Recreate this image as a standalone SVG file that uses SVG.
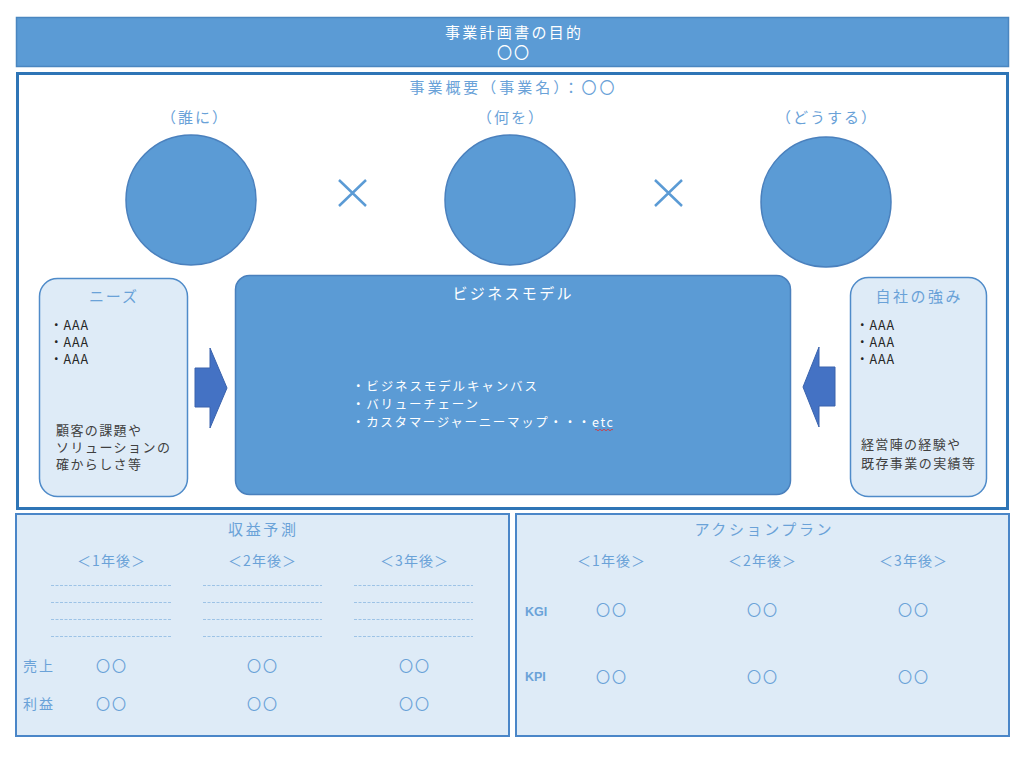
<svg xmlns="http://www.w3.org/2000/svg" width="1024" height="762" viewBox="0 0 1024 762">
<style>
text{font-family:"Noto Sans CJK JP","Noto Sans",sans-serif;}
.w{fill:#ffffff;font-size:15px;}
.lb{fill:#6aa2d8;font-size:15px;}
.lbs{fill:#6aa2d8;font-size:14px;}
.dk{fill:#262626;font-size:12.5px;}
.gr{fill:#404040;font-size:13px;}
.wl{fill:#ffffff;font-size:12.5px;}
.c{text-anchor:middle;}
.circ{fill:#5b9bd5;stroke:#4a80bd;stroke-width:1.5;}
.pale{fill:#deebf7;stroke:#4f8bc9;stroke-width:1.5;}
.panel{fill:#deebf7;stroke:#4a86c8;stroke-width:2;}
.dash{stroke:#9dc3e6;stroke-width:1;stroke-dasharray:3 1.5;fill:none;}
.x{stroke:#5b9bd5;stroke-width:2.5;fill:none;}
.arr{fill:#4472c4;stroke:#3a63ad;stroke-width:1;}
.k{fill:#6aa2d8;font-size:12.5px;font-weight:bold;font-family:"Liberation Sans",Arial,sans-serif;}
</style>

<g id="purpose">
<rect x="16.5" y="17.5" width="992" height="49" fill="#5b9bd5" stroke="#4a86c0" stroke-width="1.5"/>
<text class="w c" x="513" y="38" textLength="136">事業計画書の目的</text>
<text class="w c" x="513" y="58" textLength="32">〇〇</text>
</g>

<g id="overview">
<rect x="17.5" y="73.5" width="990" height="435" fill="#ffffff" stroke="#2e75b6" stroke-width="3"/>
<text class="lb c" x="512" y="93" font-size="16" textLength="205">事業概要（事業名）：〇〇</text>
</g>

<g id="who">
<text class="lb c" x="195" y="123" letter-spacing="2">（誰に）</text>
<circle class="circ" cx="191" cy="200" r="65"/>
</g>
<g id="what">
<text class="lb c" x="511" y="123" letter-spacing="2">（何を）</text>
<circle class="circ" cx="510" cy="200" r="65"/>
</g>
<g id="how">
<text class="lb c" x="827" y="123" letter-spacing="2">（どうする）</text>
<circle class="circ" cx="826" cy="202" r="65"/>
</g>

<g id="times">
<path class="x" d="M339 180 L366 206 M366 180 L339 206"/>
<path class="x" d="M655 180 L682 206 M682 180 L655 206"/>
</g>

<g id="needs">
<rect class="pale" x="39.5" y="278.5" width="148" height="218" rx="18"/>
<text class="lb c" x="113" y="302" textLength="48">ニーズ</text>
<text class="dk" x="50" y="330" textLength="38">・AAA</text>
<text class="dk" x="50" y="347" textLength="38">・AAA</text>
<text class="dk" x="50" y="364" textLength="38">・AAA</text>
<text class="gr" x="56" y="435" textLength="85">顧客の課題や</text>
<text class="gr" x="56" y="452" textLength="114">ソリューションの</text>
<text class="gr" x="56" y="469" textLength="85">確からしさ等</text>
</g>

<g id="bizmodel">
<rect x="235.5" y="275.5" width="555" height="219" rx="14" fill="#5b9bd5" stroke="#4a80bd" stroke-width="1.5"/>
<text class="w c" x="512" y="299" textLength="119">ビジネスモデル</text>
<text class="wl" x="352" y="391" textLength="185">・ビジネスモデルキャンバス</text>
<text class="wl" x="352" y="409" textLength="126">・バリューチェーン</text>
<text class="wl" x="352" y="427" textLength="261">・カスタマージャーニーマップ・・・etc</text>
<path d="M595 430 q1 -1.5 2 0 t2 0 t2 0 t2 0 t2 0 t2 0 t2 0 t2 0 t2 0" fill="none" stroke="#e03030" stroke-width="0.8"/>
</g>

<g id="strength">
<rect class="pale" x="850.5" y="277.5" width="136" height="219" rx="18"/>
<text class="lb c" x="918" y="302" textLength="85">自社の強み</text>
<text class="dk" x="856" y="330" textLength="38">・AAA</text>
<text class="dk" x="856" y="347" textLength="38">・AAA</text>
<text class="dk" x="856" y="364" textLength="38">・AAA</text>
<text class="gr" x="861" y="449" textLength="99">経営陣の経験や</text>
<text class="gr" x="861" y="468" textLength="114">既存事業の実績等</text>
</g>

<g id="connectors">
<path class="arr" d="M195 368 L210 368 L210 348 L227 388 L210 428 L210 407 L195 407 Z"/>
<path class="arr" d="M835 367 L819 367 L819 347 L803 387 L819 427 L819 406 L835 406 Z"/>
</g>

<g id="revenue">
<rect class="panel" x="16" y="514" width="493" height="222"/>
<text class="lb c" x="262" y="535" textLength="68">収益予測</text>
<text class="lbs c" x="111" y="566" textLength="68">＜1年後＞</text>
<text class="lbs c" x="262" y="566" textLength="68">＜2年後＞</text>
<text class="lbs c" x="414" y="566" textLength="68">＜3年後＞</text>
<path class="dash" d="M51 585.5 H171 M51 602.5 H171 M51 619.5 H171 M51 636.5 H171 M203 585.5 H322 M203 602.5 H322 M203 619.5 H322 M203 636.5 H322 M354 585.5 H473 M354 602.5 H473 M354 619.5 H473 M354 636.5 H473"/>
<text class="lbs" x="23" y="671" textLength="30">売上</text>
<text class="lbs c" x="111" y="671" textLength="30">〇〇</text>
<text class="lbs c" x="262" y="671" textLength="30">〇〇</text>
<text class="lbs c" x="414" y="671" textLength="30">〇〇</text>
<text class="lbs" x="23" y="709" textLength="30">利益</text>
<text class="lbs c" x="111" y="709" textLength="30">〇〇</text>
<text class="lbs c" x="262" y="709" textLength="30">〇〇</text>
<text class="lbs c" x="414" y="709" textLength="30">〇〇</text>
</g>

<g id="actionplan">
<rect class="panel" x="516" y="514" width="493" height="222"/>
<text class="lb c" x="763" y="535" textLength="137">アクションプラン</text>
<text class="lbs c" x="611" y="566" textLength="68">＜1年後＞</text>
<text class="lbs c" x="762" y="566" textLength="68">＜2年後＞</text>
<text class="lbs c" x="913" y="566" textLength="68">＜3年後＞</text>
<text class="k" x="525" y="616">KGI</text>
<text class="lbs c" x="611" y="615" textLength="30">〇〇</text>
<text class="lbs c" x="762" y="615" textLength="30">〇〇</text>
<text class="lbs c" x="913" y="615" textLength="30">〇〇</text>
<text class="k" x="525" y="681">KPI</text>
<text class="lbs c" x="611" y="682" textLength="30">〇〇</text>
<text class="lbs c" x="762" y="682" textLength="30">〇〇</text>
<text class="lbs c" x="913" y="682" textLength="30">〇〇</text>
</g>
</svg>
